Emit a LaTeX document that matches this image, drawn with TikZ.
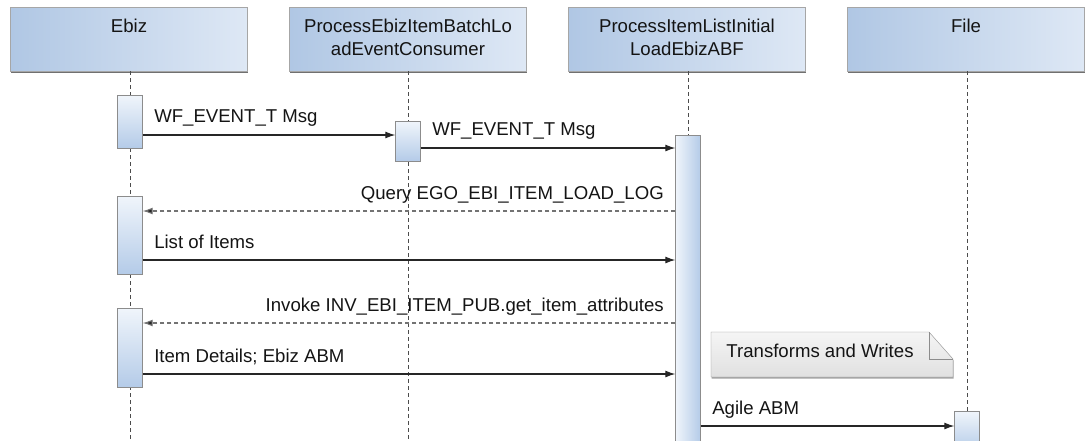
\documentclass[tikz,border=0pt]{standalone}
\usepackage{fontspec}
\setmainfont{Liberation Sans}
\usepackage{xcolor}
\usetikzlibrary{arrows.meta,shadows}

\definecolor{hdrL}{RGB}{176,199,228}
\definecolor{hdrR}{RGB}{222,232,245}
\definecolor{actT}{RGB}{240,245,251}
\definecolor{actB}{RGB}{180,203,232}
\definecolor{txt}{RGB}{20,20,20}

\tikzset{
  hdr/.style={rectangle, draw=black!35, left color=hdrL, right color=hdrR,
    minimum width=237pt, minimum height=64pt, inner sep=0pt,
    drop shadow={shadow xshift=0.8pt, shadow yshift=-1.8pt, fill=black!70, opacity=0.8}},
  hdrtxt/.style={anchor=north, yshift=-9pt, align=center, text=txt,
    font=\fontsize{18.6}{22.5}\selectfont},
  life/.style={black!70, line width=1pt, dash pattern=on 4pt off 3pt},
  act/.style={rectangle, draw=black!45, top color=actT, bottom color=actB,
    minimum width=25pt, inner sep=0pt, anchor=north},
  msg/.style={black!85, line width=1.1pt, -{Latex[length=10pt,width=7pt]}},
  ret/.style={black!55, line width=1.1pt, dash pattern=on 4pt off 3pt,
    -{Latex[length=10pt,width=7pt,fill=black!85]}},
  lbl/.style={inner sep=0pt, text=txt, font=\fontsize{18.6}{22.5}\selectfont},
  notebox/.style={draw=black!45, top color=black!4, bottom color=black!12,
    drop shadow={shadow xshift=0.6pt, shadow yshift=-1.5pt, fill=black!60, opacity=0.6}}
}

\begin{document}
\begin{tikzpicture}[x=1pt,y=-1pt]
    \useasboundingbox (0,0) rectangle (1086,440);
    % Def coords
    \coordinate (bot) at (0,440);
    \coordinate (m1) at (0,135);
    \coordinate (m2) at (0,148);
    \coordinate (m3) at (0,211);
    \coordinate (m4) at (0,260);
    \coordinate (m5) at (0,323);
    \coordinate (m6) at (0,374);
    \coordinate (m7) at (0,426);
    % Headers
    \node[hdr, label={[hdrtxt]north:Ebiz}] (E) at (129,39) {};
    \node[hdr, label={[hdrtxt]north:{ProcessEbizItemBatchLo\\adEventConsumer}}] (C) at (408,39) {};
    \node[hdr, label={[hdrtxt]north:{ProcessItemListInitial\\LoadEbizABF}}] (A) at (687,39) {};
    \node[hdr, label={[hdrtxt]north:File}] (F) at (966,39) {};
    % Draw lifelines
    \draw[life] (E.south -| 130,0) -- (130,440);
    \draw[life] (C.south) -- (C |- bot);
    \draw[life] (A.south -| 688,0) -- (688,440);
    \draw[life] (F.south -| 967,0) -- (967,440);
    % Activations
    \node[act, minimum height=53] (E1) at (130,95) {};
    \node[act, minimum height=40] (C1) at (408,121) {};
    \node[act, minimum height=315, left color=actT, right color=actB] (A1) at (688,135) {};
    \node[act, minimum height=78] (E2) at (130,196) {};
    \node[act, minimum height=79] (E3) at (130,308) {};
    \node[act, minimum height=40] (F1) at (967,411) {};
    % Messages
    \draw[msg] (E1.east |- m1) -- node[lbl, pos=0, anchor=base west, xshift=11pt, yshift=13pt] {WF\_EVENT\_T Msg} (C1.west |- m1);
    \draw[msg] (C1.east |- m2) -- node[lbl, pos=0, anchor=base west, xshift=11pt, yshift=13pt] {WF\_EVENT\_T Msg} (A1.west |- m2);
    \draw[ret] (A1.west |- m3) -- node[lbl, pos=0, anchor=base east, xshift=-11pt, yshift=12pt] {Query EGO\_EBI\_ITEM\_LOAD\_LOG} (E2.east |- m3);
    \draw[msg] (E2.east |- m4) -- node[lbl, pos=0, anchor=base west, xshift=11pt, yshift=12pt] {List of Items} (A1.west |- m4);
    \draw[ret] (A1.west |- m5) -- node[lbl, pos=0, anchor=base east, xshift=-11pt, yshift=12pt] {Invoke INV\_EBI\_ITEM\_PUB.get\_item\_attributes} (E3.east |- m5);
    \draw[msg] (E3.east |- m6) -- node[lbl, pos=0, anchor=base west, xshift=11pt, yshift=12pt] {Item Details; Ebiz ABM} (A1.west |- m6);
    \draw[msg] (A1.east |- m7) -- node[lbl, pos=0, anchor=base west, xshift=11pt, yshift=12pt] {Agile ABM} (F1.west |- m7);
    % Note
    \draw[notebox] (711,332) -- (929,332) -- (953,359) -- (953,377) -- (711,377) -- cycle;
    \draw[black!45] (929,332) |- (953,359);
    \node[lbl] (nt) at (820,351) {Transforms and Writes};
\end{tikzpicture}
\end{document}
